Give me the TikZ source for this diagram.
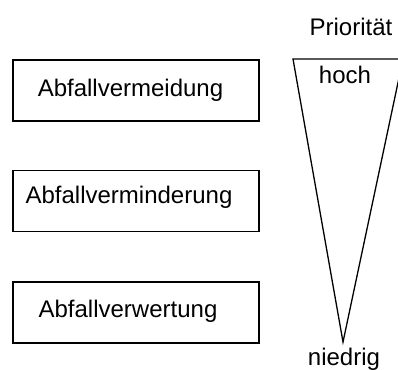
\documentclass[tikz,border=0pt]{standalone}
\usepackage{fontspec}
\setmainfont{Liberation Sans}
\begin{document}
\begin{tikzpicture}[x=1pt,y=-1pt,
  boxshape/.style={draw, line width=1.3pt, minimum width=246pt, minimum height=61pt, inner sep=0pt},
  lbl/.style={anchor=base, inner sep=0pt, font=\fontsize{24}{28}\selectfont}]
\useasboundingbox (0,0) rectangle (398,369);
\clip (0,0) rectangle (398,369);
\node[boxshape] (b1) at (136,90.5) {};
\node[boxshape] (b2) at (136,201) {};
\node[boxshape] (b3) at (136,312.5) {};
\node[lbl] (t1) at (130.5,96.7) {Abfallvermeidung};
\node[lbl] (t2) at (129,203) {Abfallverminderung};
\node[lbl] (t3) at (128,317) {Abfallverwertung};
\coordinate (tl) at (293,59);
\coordinate (tr) at (403,59);
\coordinate (ap) at (343,342);
\draw[line width=1.3pt, line join=miter] (tl) -- (ap) -- (tr) -- cycle;
\node[lbl] (prio) at (351,35) {Priorität};
\node[lbl] (hoch) at (345,83) {hoch};
\node[lbl] (nied) at (344,365) {niedrig};
\end{tikzpicture}
\end{document}
